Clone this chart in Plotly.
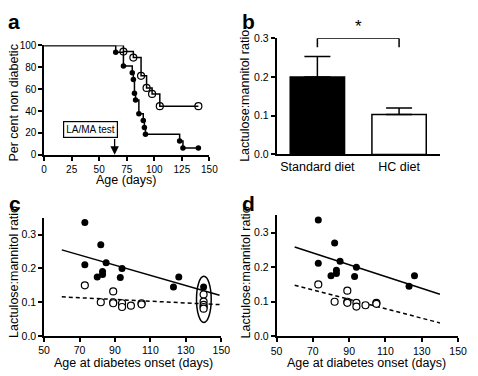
import plotly.graph_objects as go

FONT = "Liberation Sans, Arial, Helvetica, sans-serif"

# ---------------- Panel a: Kaplan-Meier (per cent non diabetic) ----------------
start_day = [0]
start_pct = [100]
std_days = [65, 72, 80, 81, 82, 83, 86, 90, 91, 92, 123, 126, 140]
std_pct = [93.75, 81.25, 75.0, 68.75, 56.25, 50.0, 37.5, 31.25, 25.0, 18.75, 12.5, 6.25, 6.25]
hc_days = [72, 81, 88, 93, 98, 105, 140]
hc_pct = [94.4, 88.9, 72.2, 61.1, 55.6, 44.4, 44.4]
test_day = 64
a_xticks = [0, 25, 50, 75, 100, 125, 150]
a_yticks = [0, 20, 40, 60, 80, 100]

# ---------------- Panel b: bar chart ----------------
diets = ["Standard diet", "HC diet"]
ratio_mean = [0.200, 0.103]
ratio_sem = [0.053, 0.017]
b_yticks = [0.0, 0.1, 0.2, 0.3]

# ---------------- Panels c/d: ratio vs age at onset ----------------
std_onset = [73, 82, 73, 85, 94, 83, 83, 80, 93, 126, 123]
std_ratio = [0.336, 0.270, 0.211, 0.217, 0.200, 0.191, 0.182, 0.175, 0.173, 0.175, 0.145]
hc_onset = [73, 89, 82, 89, 89, 94, 94, 99, 105, 105]
hc_ratio = [0.150, 0.132, 0.100, 0.100, 0.097, 0.097, 0.086, 0.090, 0.097, 0.094]
# non-diabetic mice (assigned 140 days) - panel c only
nd_std_age = [140]
nd_std_ratio = [0.145]
nd_hc_age = [140, 140, 140, 140, 140]
nd_hc_ratio = [0.123, 0.102, 0.092, 0.086, 0.081]
# regression lines
c_fit_x = [60, 149]
c_std_fit = [0.255, 0.121]
c_hc_fit = [0.116, 0.093]
d_fit_x = [60, 140]
d_std_fit = [0.258, 0.122]
d_hc_fit = [0.148, 0.039]
cd_xticks = [50, 70, 90, 110, 130, 150]
cd_yticks = [0.0, 0.1, 0.2, 0.3]

fig = go.Figure()

# Panel a
fig.add_trace(go.Scatter(x=start_day + std_days, y=start_pct + std_pct, mode="lines",
                         line=dict(color="black", width=1.5, shape="hv"),
                         xaxis="x", yaxis="y", cliponaxis=False, showlegend=False))
fig.add_trace(go.Scatter(x=start_day + hc_days, y=start_pct + hc_pct, mode="lines",
                         line=dict(color="black", width=1.5, shape="hv"),
                         xaxis="x", yaxis="y", cliponaxis=False, showlegend=False))
fig.add_trace(go.Scatter(x=std_days, y=std_pct, mode="markers",
                         marker=dict(color="black", size=5.5, symbol="circle"),
                         xaxis="x", yaxis="y", cliponaxis=False, showlegend=False))
fig.add_trace(go.Scatter(x=hc_days, y=hc_pct, mode="markers",
                         marker=dict(color="black", size=7, symbol="circle-open",
                                     line=dict(width=1.2, color="black")),
                         xaxis="x", yaxis="y", cliponaxis=False, showlegend=False))

# Panel b
fig.add_trace(go.Bar(x=diets, y=ratio_mean, width=0.665,
                     marker=dict(color=["black", "white"], line=dict(color="black", width=1.5)),
                     error_y=dict(type="data", symmetric=False, array=ratio_sem,
                                  arrayminus=[0, 0], color="black", thickness=1.5, width=13),
                     xaxis="x2", yaxis="y2", showlegend=False))

# Panel c
open_marker = dict(color="white", size=7, symbol="circle",
                   line=dict(width=1.2, color="black"))
fill_marker = dict(color="black", size=7, symbol="circle")
fig.add_trace(go.Scatter(x=c_fit_x, y=c_std_fit, mode="lines",
                         line=dict(color="black", width=1.5),
                         xaxis="x3", yaxis="y3", showlegend=False))
fig.add_trace(go.Scatter(x=c_fit_x, y=c_hc_fit, mode="lines",
                         line=dict(color="black", width=1.5, dash="4px,3px"),
                         xaxis="x3", yaxis="y3", showlegend=False))
fig.add_trace(go.Scatter(x=hc_onset + nd_hc_age, y=hc_ratio + nd_hc_ratio, mode="markers",
                         marker=open_marker, xaxis="x3", yaxis="y3", showlegend=False))
fig.add_trace(go.Scatter(x=std_onset + nd_std_age, y=std_ratio + nd_std_ratio, mode="markers",
                         marker=fill_marker, xaxis="x3", yaxis="y3", showlegend=False))

# Panel d
fig.add_trace(go.Scatter(x=d_fit_x, y=d_std_fit, mode="lines",
                         line=dict(color="black", width=1.5),
                         xaxis="x4", yaxis="y4", showlegend=False))
fig.add_trace(go.Scatter(x=d_fit_x, y=d_hc_fit, mode="lines",
                         line=dict(color="black", width=1.5, dash="4px,3px"),
                         xaxis="x4", yaxis="y4", showlegend=False))
fig.add_trace(go.Scatter(x=hc_onset, y=hc_ratio, mode="markers",
                         marker=open_marker, xaxis="x4", yaxis="y4", showlegend=False))
fig.add_trace(go.Scatter(x=std_onset, y=std_ratio, mode="markers",
                         marker=fill_marker, xaxis="x4", yaxis="y4", showlegend=False))

W, H = 478, 376


def px_x(p):
    return p / W


def px_y(p):
    return 1 - p / H


axis_common = dict(showline=True, linecolor="black", linewidth=1.5, ticks="outside",
                   ticklen=4, tickwidth=1.5, tickcolor="black", showgrid=False,
                   zeroline=False, tickfont=dict(family=FONT, size=10.5, color="black"))

fig.update_layout(
    width=W, height=H, margin=dict(l=0, r=0, t=0, b=0),
    paper_bgcolor="white", plot_bgcolor="white",
    font=dict(family=FONT, color="black"),
    bargap=0.3,
    xaxis=dict(domain=[px_x(39.3), px_x(210)], range=[0, 150], tickvals=a_xticks,
               anchor="y", **{**axis_common, "tickfont": dict(family=FONT, size=10, color="black")}),
    yaxis=dict(domain=[px_y(153.7), px_y(40.7)], range=[0, 100], tickvals=a_yticks,
               anchor="x", **{**axis_common, "tickfont": dict(family=FONT, size=10, color="black")}),
    xaxis2=dict(domain=[px_x(279.3), px_x(448)], range=[-0.5, 1.5], type="category",
                anchor="y2", **{**axis_common, "ticks": "",
                                "tickfont": dict(family=FONT, size=12.5, color="black")}),
    yaxis2=dict(domain=[px_y(153.3), px_y(33.3)], range=[0, 0.3], tickvals=b_yticks,
                tickformat=".1f", anchor="x2", **axis_common),
    xaxis3=dict(domain=[px_x(39.3), px_x(222.3)], range=[50, 150], tickvals=cd_xticks,
                anchor="y3", **axis_common),
    yaxis3=dict(domain=[px_y(340.9), px_y(218.8)], range=[0, 0.35], tickvals=cd_yticks,
                tickformat=".1f", anchor="x3", **axis_common),
    xaxis4=dict(domain=[px_x(279.3), px_x(466.7)], range=[50, 150], tickvals=cd_xticks,
                anchor="y4", **axis_common),
    yaxis4=dict(domain=[px_y(341.3), px_y(216.1)], range=[0, 0.35], tickvals=cd_yticks,
                tickformat=".1f", anchor="x4", **axis_common),
)

# bracket + star in panel b
for x0, y0, x1, y1 in [(0, 0.277, 0, 0.3), (0, 0.3, 1, 0.3), (1, 0.3, 1, 0.277)]:
    fig.add_shape(type="line", xref="x2", yref="y2", x0=x0, y0=y0, x1=x1, y1=y1,
                  line=dict(color="black", width=1.5))
fig.add_annotation(x=0.5, y=0.3, xref="x2", yref="y2", text="*", showarrow=False,
                   yanchor="bottom", font=dict(family=FONT, size=17, color="black"))

# ellipse around non-diabetic mice in panel c
fig.add_shape(type="circle", xref="x3", yref="y3", x0=136, x1=144.3, y0=0.04, y1=0.177,
              line=dict(color="black", width=1.5))

# LA/MA test box and arrow in panel a
fig.add_annotation(x=42.2, y=23.5, xref="x", yref="y", text="LA/MA test", showarrow=False,
                   bordercolor="black", borderwidth=1.2, borderpad=2, bgcolor="white",
                   font=dict(family=FONT, size=10, color="black"))
fig.add_annotation(x=test_day, y=0, xref="x", yref="y", ax=test_day, ay=15.7,
                   axref="x", ayref="y", text="", showarrow=True, arrowhead=2,
                   arrowsize=1.3, arrowwidth=1.3, arrowcolor="black")

# axis titles
titles = [
    ("Per cent non diabetic", 8, 100, -90),
    ("Age (days)", 124.2, 179.5, 0),
    ("Lactulose:mannitol ratio", 247.3, 93.3, -90),
    ("Lactulose:mannitol ratio", 8, 275, -90),
    ("Age at diabetes onset (days)", 131.2, 368.8, 0),
    ("Lactulose:mannitol ratio", 248, 275, -90),
    ("Age at diabetes onset (days)", 372.2, 368.8, 0),
]
for txt, x, y, ang in titles:
    fig.add_annotation(x=px_x(x), y=px_y(y), xref="paper", yref="paper", text=txt,
                       showarrow=False, textangle=ang, xanchor="center", yanchor="middle",
                       font=dict(family=FONT, size=12.5, color="black"))

# panel letters
for letter, x, y in [("a", 0, 16), ("b", 241.5, 16), ("c", 1.5, 204.5), ("d", 241.5, 204.5)]:
    fig.add_annotation(x=px_x(x), y=px_y(y), xref="paper", yref="paper", text="<b>%s</b>" % letter,
                       showarrow=False, xanchor="left", yanchor="middle",
                       font=dict(family=FONT, size=21, color="black"))

fig.write_html("out.html", config={"displayModeBar": False},
               post_script="document.body.style.margin='0px';")
